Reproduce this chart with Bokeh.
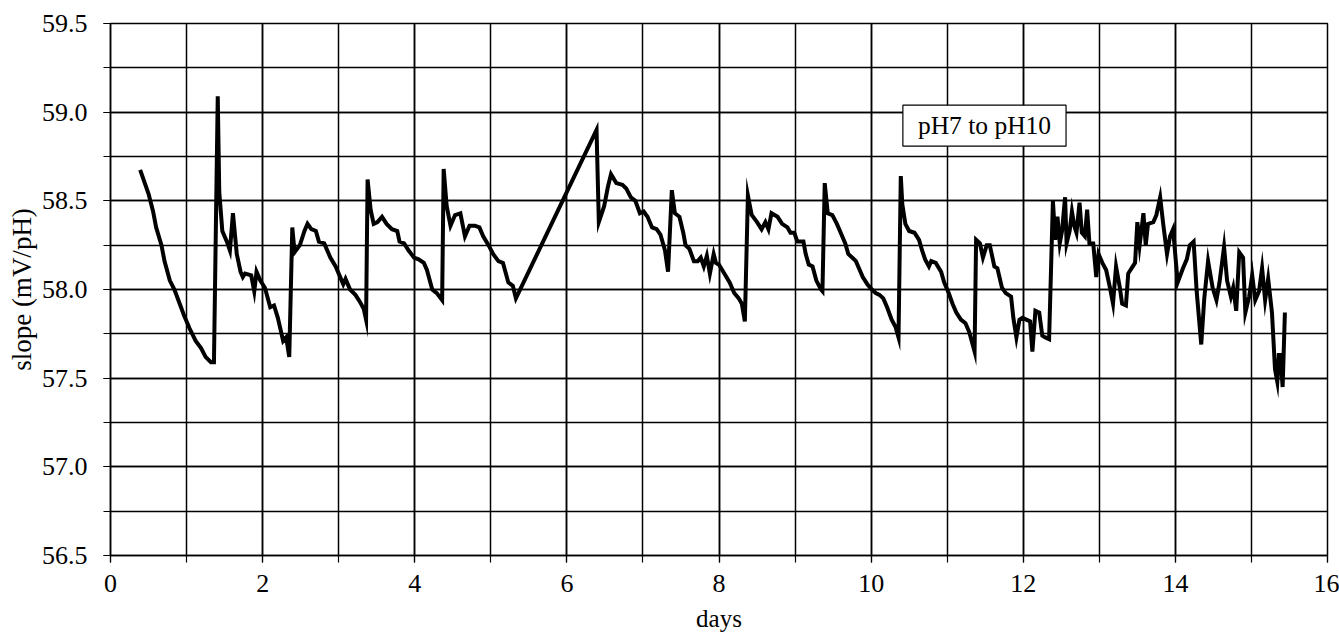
from bokeh.plotting import figure
from bokeh.models import Range1d, SingleIntervalTicker, Label, NumeralTickFormatter
from bokeh.embed import file_html
from bokeh.resources import INLINE

days = [0.39, 0.50, 0.56, 0.60, 0.67, 0.71, 0.78, 0.84, 0.91, 0.97, 1.04, 1.12, 1.19, 1.25, 1.32, 1.36,
        1.41, 1.43, 1.47, 1.53, 1.57, 1.61, 1.66, 1.71, 1.74, 1.77, 1.85, 1.89, 1.92, 1.97, 2.03, 2.10,
        2.15, 2.20, 2.27, 2.31, 2.35, 2.39, 2.42, 2.49, 2.55, 2.59, 2.64, 2.70, 2.74, 2.81, 2.89, 2.96,
        3.02, 3.06, 3.09, 3.15, 3.22, 3.28, 3.33, 3.36, 3.38, 3.42, 3.46, 3.51, 3.57, 3.63, 3.70, 3.77,
        3.80, 3.86, 3.92, 3.99, 4.05, 4.12, 4.16, 4.23, 4.29, 4.36, 4.38, 4.42, 4.47, 4.53, 4.60, 4.66,
        4.72, 4.79, 4.85, 4.90, 4.97, 5.03, 5.10, 5.16, 5.23, 5.29, 5.33, 6.39, 6.42, 6.49, 6.54, 6.58,
        6.65, 6.73, 6.78, 6.84, 6.90, 6.96, 7.01, 7.06, 7.12, 7.18, 7.23, 7.29, 7.33, 7.38, 7.42, 7.48,
        7.53, 7.56, 7.61, 7.67, 7.72, 7.76, 7.80, 7.84, 7.88, 7.93, 7.96, 8.00, 8.07, 8.14, 8.20, 8.26,
        8.30, 8.34, 8.38, 8.43, 8.50, 8.56, 8.61, 8.65, 8.69, 8.77, 8.83, 8.90, 8.94, 8.99, 9.03, 9.11,
        9.14, 9.18, 9.23, 9.28, 9.34, 9.36, 9.39, 9.43, 9.49, 9.55, 9.60, 9.66, 9.70, 9.75, 9.80, 9.84,
        9.89, 9.95, 10.01, 10.06, 10.11, 10.16, 10.21, 10.27, 10.32, 10.36, 10.39, 10.41, 10.45, 10.50,
        10.57, 10.63, 10.67, 10.71, 10.76, 10.79, 10.85, 10.92, 10.96, 11.02, 11.07, 11.12, 11.18, 11.24,
        11.29, 11.36, 11.38, 11.43, 11.47, 11.52, 11.56, 11.62, 11.66, 11.72, 11.77, 11.84, 11.87, 11.91,
        11.95, 11.99, 12.04, 12.09, 12.12, 12.16, 12.21, 12.25, 12.29, 12.34, 12.39, 12.42, 12.45, 12.48,
        12.51, 12.55, 12.57, 12.61, 12.64, 12.67, 12.70, 12.74, 12.77, 12.81, 12.84, 12.87, 12.92, 12.96,
        12.99, 13.04, 13.09, 13.14, 13.18, 13.22, 13.27, 13.30, 13.35, 13.38, 13.44, 13.47, 13.50, 13.53,
        13.58, 13.61, 13.64, 13.71, 13.75, 13.80, 13.84, 13.89, 13.93, 13.97, 14.03, 14.10, 14.15, 14.19,
        14.24, 14.28, 14.34, 14.38, 14.43, 14.49, 14.54, 14.58, 14.64, 14.68, 14.73, 14.76, 14.80, 14.84,
        14.89, 14.92, 14.97, 15.01, 15.05, 15.10, 15.14, 15.18, 15.22, 15.27, 15.31, 15.34, 15.36, 15.38,
        15.41, 15.44]

slope = [58.675, 58.54, 58.44, 58.35, 58.25, 58.16, 58.05, 58.00, 57.92, 57.85, 57.78, 57.71, 57.67, 57.62, 57.59, 57.59,
         59.09, 58.55, 58.33, 58.27, 58.22, 58.43, 58.20, 58.10, 58.07, 58.09, 58.08, 57.99, 58.10, 58.05, 58.01, 57.90,
         57.91, 57.84, 57.71, 57.73, 57.62, 58.35, 58.21, 58.25, 58.33, 58.37, 58.34, 58.33, 58.27, 58.26, 58.18, 58.13,
         58.07, 58.03, 58.06, 58.00, 57.97, 57.93, 57.89, 57.83, 58.62, 58.45, 58.37, 58.38, 58.41, 58.37, 58.34, 58.33,
         58.27, 58.26, 58.22, 58.18, 58.17, 58.15, 58.11, 58.00, 57.98, 57.94, 58.68, 58.47, 58.36, 58.42, 58.43, 58.30,
         58.36, 58.36, 58.35, 58.30, 58.25, 58.20, 58.16, 58.15, 58.04, 58.02, 57.95, 58.90, 58.38, 58.47, 58.58, 58.65,
         58.60, 58.59, 58.57, 58.52, 58.50, 58.43, 58.44, 58.41, 58.35, 58.34, 58.31, 58.22, 58.10, 58.56, 58.43, 58.41,
         58.32, 58.25, 58.23, 58.16, 58.16, 58.18, 58.13, 58.19, 58.09, 58.20, 58.15, 58.14, 58.09, 58.04, 57.98, 57.95,
         57.92, 57.82, 58.53, 58.42, 58.38, 58.34, 58.38, 58.34, 58.43, 58.41, 58.37, 58.35, 58.32, 58.32, 58.27, 58.27,
         58.20, 58.14, 58.13, 58.05, 58.00, 57.99, 58.60, 58.43, 58.42, 58.37, 58.32, 58.26, 58.20, 58.18, 58.16, 58.12,
         58.07, 58.03, 58.00, 57.98, 57.97, 57.95, 57.90, 57.83, 57.79, 57.73, 58.64, 58.48, 58.37, 58.33,
         58.32, 58.28, 58.22, 58.17, 58.13, 58.16, 58.15, 58.10, 58.04, 57.98, 57.92, 57.87, 57.83, 57.81,
         57.76, 57.65, 58.28, 58.26, 58.18, 58.25, 58.25, 58.13, 58.12, 58.01, 57.98, 57.96, 57.84, 57.73,
         57.83, 57.84, 57.83, 57.82, 57.65, 57.88, 57.87, 57.74, 57.73, 57.72, 58.50, 58.28, 58.41, 58.26,
         58.33, 58.52, 58.26, 58.33, 58.44, 58.36, 58.32, 58.49, 58.32, 58.30, 58.45, 58.26, 58.26, 58.07,
         58.20, 58.15, 58.11, 58.01, 57.92, 58.13, 58.01, 57.92, 57.91, 58.09, 58.13, 58.15, 58.38, 58.25,
         58.43, 58.25, 58.37, 58.38, 58.42, 58.52, 58.37, 58.20, 58.30, 58.34, 58.04, 58.12, 58.17, 58.25,
         58.27, 57.99, 57.69, 57.95, 58.16, 58.01, 57.94, 58.04, 58.24, 58.05, 57.96, 58.01, 57.88, 58.21,
         58.18, 57.87, 57.96, 58.08, 57.94, 57.99, 58.12, 57.94, 58.06, 57.87, 57.55, 57.48, 57.63, 57.63,
         57.45, 57.87]

x_title = "days"
y_title = "slope (mV/pH)"
box_text = "pH7 to pH10"

FONT = "Liberation Serif"

p = figure(width=1339, height=637, output_backend="svg", toolbar_location=None,
           x_range=Range1d(0, 16), y_range=Range1d(56.5, 59.5),
           min_border_left=110, min_border_right=12, min_border_top=23, min_border_bottom=82)
p.background_fill_color = "white"
p.border_fill_color = "white"
p.outline_line_color = "black"
p.outline_line_width = 1.5

p.line(days, slope, line_color="black", line_width=4, line_join="miter")

p.xaxis.ticker = SingleIntervalTicker(interval=2, num_minor_ticks=2)
p.yaxis.ticker = SingleIntervalTicker(interval=0.5, num_minor_ticks=2)
p.yaxis.formatter = NumeralTickFormatter(format="0.0")

for ax in (p.xaxis[0], p.yaxis[0]):
    ax.axis_line_color = "black"
    ax.axis_line_width = 1.5
    ax.major_tick_line_color = "black"
    ax.minor_tick_line_color = "black"
    ax.major_tick_line_width = 1.2
    ax.minor_tick_line_width = 1.2
    ax.major_tick_in = 0
    ax.major_tick_out = 7
    ax.minor_tick_in = 0
    ax.minor_tick_out = 7
    ax.major_label_text_font = FONT
    ax.major_label_text_font_size = "26px"
    ax.major_label_text_color = "black"
    ax.axis_label_text_font = FONT
    ax.axis_label_text_font_style = "normal"
    ax.axis_label_text_color = "black"

p.xaxis.axis_label_text_font_size = "25px"
p.yaxis.axis_label_text_font_size = "27px"
p.xaxis.axis_label = x_title
p.yaxis.axis_label = y_title
p.xaxis.major_label_standoff = 12
p.yaxis.major_label_standoff = 16
p.xaxis.axis_label_standoff = 10
p.yaxis.axis_label_standoff = 2

for g in (p.xgrid[0], p.ygrid[0]):
    g.grid_line_color = "black"
    g.grid_line_width = 1.5
    g.minor_grid_line_color = "black"
    g.minor_grid_line_width = 1.5

lab = Label(x=11.49, y=58.924, text=box_text, text_font=FONT, text_font_size="25.5px",
            text_color="black", text_baseline="middle", text_align="center",
            border_line_color="black", border_line_width=1.2,
            background_fill_color="white", background_fill_alpha=1.0,
            padding=dict(left=15, right=15, top=6, bottom=6))
p.add_layout(lab)

open("out.html", "w").write(file_html(p, INLINE))
